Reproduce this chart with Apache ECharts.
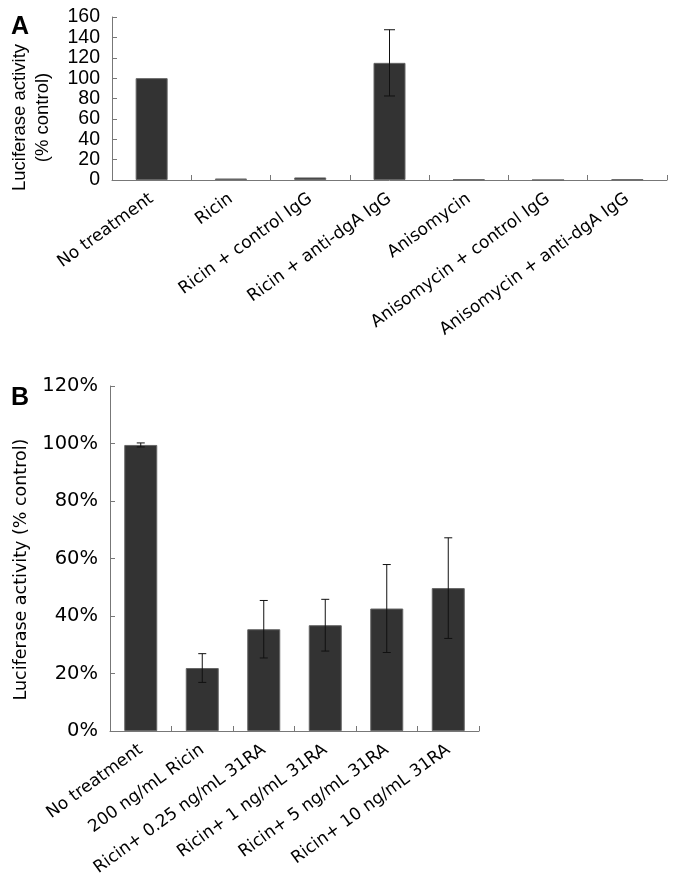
<!DOCTYPE html>
<html>
<head>
<meta charset="utf-8">
<script src="https://cdn.jsdelivr.net/npm/echarts@6/dist/echarts.min.js"></script>
<style>
  body { margin: 0; background: #fff; }
  #chart { width: 677px; height: 882px; }
</style>
</head>
<body>
<div id="chart"></div>
<script>
// panel A
var catsA = ['No treatment', 'Ricin', 'Ricin + control IgG', 'Ricin + anti-dgA IgG',
  'Anisomycin', 'Anisomycin + control IgG', 'Anisomycin + anti-dgA IgG'];
var valsA = [100, 1.5, 2.5, 115, 0.5, 0, 0.5];
var errA = [0, 0, 0, 32.5, 0, 0, 0];
var ticksA = [0, 20, 40, 60, 80, 100, 120, 140, 160];

// panel B
var catsB = ['No treatment', '200 ng/mL Ricin', 'Ricin+ 0.25 ng/mL 31RA', 'Ricin+ 1 ng/mL 31RA',
  'Ricin+ 5 ng/mL 31RA', 'Ricin+ 10 ng/mL 31RA'];
var valsB = [99.5, 21.9, 35.4, 36.8, 42.6, 49.7];
var errB = [0.7, 5, 10, 9, 15.3, 17.5];
var ticksB = [0, 20, 40, 60, 80, 100, 120];

function errData(vals, errs) {
  var out = [];
  vals.forEach(function (v, i) {
    if (errs[i] > 0) out.push([i, v - errs[i], v + errs[i]]);
  });
  return out;
}

// draws the whisker and both caps
function errorBar(capW) {
  return function (params, api) {
    var top = api.coord([api.value(0), api.value(2)]);
    var bot = api.coord([api.value(0), api.value(1)]);
    var h = capW / 2;
    var st = { stroke: '#111', lineWidth: 1 };
    return {
      type: 'group',
      children: [
        { type: 'line', shape: { x1: top[0], y1: top[1], x2: bot[0], y2: bot[1] }, style: st },
        { type: 'line', shape: { x1: top[0] - h, y1: top[1], x2: top[0] + h, y2: top[1] }, style: st },
        { type: 'line', shape: { x1: bot[0] - h, y1: bot[1], x2: bot[0] + h, y2: bot[1] }, style: st }
      ]
    };
  };
}

var axisLine = { show: true, lineStyle: { color: '#777', width: 1 } };
var tick = { show: true, inside: true, length: 5, lineStyle: { color: '#777' } };
var catLabel = { interval: 0, rotate: 36, fontFamily: 'DejaVu Sans', fontSize: 17, color: '#000', margin: 17 };
var barStyle = { color: '#333333', borderColor: '#666', borderWidth: 1 };
var letterStyle = { fontFamily: 'Liberation Sans', fontWeight: 'bold', fontSize: 25, color: '#000' };

var chart = echarts.init(document.getElementById('chart'));
chart.setOption({
  animation: false,
  title: [
    { text: 'A', left: 6, top: 10, textStyle: letterStyle },
    { text: 'B', left: 6, top: 381, textStyle: letterStyle }
  ],
  grid: [
    { left: 110, top: 17, width: 557, height: 163 },
    { left: 110, top: 386, width: 369, height: 345 }
  ],
  xAxis: [
    { type: 'category', gridIndex: 0, data: catsA, axisLine: axisLine, axisTick: tick, axisLabel: catLabel },
    { type: 'category', gridIndex: 1, data: catsB, axisLine: axisLine, axisTick: tick, axisLabel: catLabel }
  ],
  yAxis: [
    {
      type: 'value', gridIndex: 0,
      min: ticksA[0], max: ticksA[ticksA.length - 1], interval: ticksA[1] - ticksA[0],
      name: 'Luciferase activity\n(% control)', nameLocation: 'middle', nameGap: 58,
      nameTextStyle: { fontFamily: 'Liberation Sans', fontSize: 18.5, color: '#000', lineHeight: 23, padding: [0, 38, 0, 0] },
      axisLine: axisLine, axisTick: tick,
      splitLine: { show: false },
      axisLabel: { fontFamily: 'Liberation Sans', fontSize: 19.5, color: '#000', margin: 12 }
    },
    {
      type: 'value', gridIndex: 1,
      min: ticksB[0], max: ticksB[ticksB.length - 1], interval: ticksB[1] - ticksB[0],
      name: 'Luciferase activity (% control)', nameLocation: 'middle', nameGap: 80,
      nameTextStyle: { fontFamily: 'DejaVu Sans', fontSize: 17.5, color: '#000', padding: [0, 22, 0, 0] },
      axisLine: axisLine, axisTick: tick,
      splitLine: { show: false },
      axisLabel: { fontFamily: 'DejaVu Sans', fontSize: 19.5, color: '#000', margin: 12, formatter: '{value}%' }
    }
  ],
  series: [
    { type: 'bar', xAxisIndex: 0, yAxisIndex: 0, data: valsA, barWidth: 32, itemStyle: barStyle },
    { type: 'custom', xAxisIndex: 0, yAxisIndex: 0, data: errData(valsA, errA), renderItem: errorBar(11), z: 5 },
    { type: 'bar', xAxisIndex: 1, yAxisIndex: 1, data: valsB, barWidth: 33, itemStyle: barStyle },
    { type: 'custom', xAxisIndex: 1, yAxisIndex: 1, data: errData(valsB, errB), renderItem: errorBar(8), z: 5 }
  ]
});
</script>
</body>
</html>
